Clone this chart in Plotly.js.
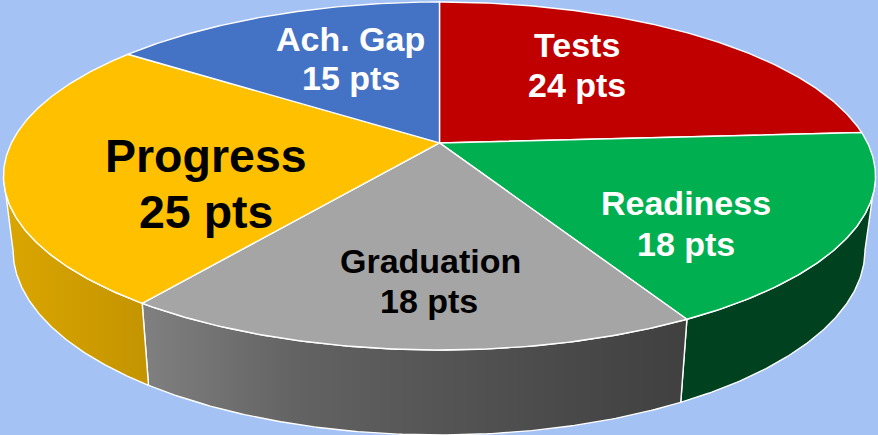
<!DOCTYPE html>
<html>
<head>
<meta charset="utf-8">
<script src="https://cdn.plot.ly/plotly-3.0.1.min.js"></script>
<style>html,body{margin:0;padding:0;background:#A4C2F4;overflow:hidden}#chart{width:878px;height:435px}</style>
</head>
<body>
<div id="chart"></div>
<script>
// Data
const categories = ["Tests", "Readiness", "Graduation", "Progress", "Ach. Gap"];
const points = [24, 18, 18, 25, 15];

// Styles
const topColors = ["#C00000", "#00B050", "#A5A5A5", "#FFC000", "#4472C4"];
const textColors = ["#FFFFFF", "#FFFFFF", "#000000", "#000000", "#FFFFFF"];
const fontSizes = [34, 34, 34, 46.5, 34];
const namePos = [[577, 45], [686, 203], [430, 261], [206, 156], [350, 39]];
const valuePos = [[577, 85], [686, 244], [429, 301], [206, 212], [351, 78]];
const wallGradients = {
  1: [[0, "#00421F"], [1, "#00421F"]],
  2: [[0, "#808080"], [0.28, "#636363"], [0.54, "#555555"], [0.83, "#474747"], [1, "#404040"]],
  3: [[0, "#DAA600"], [1, "#C49400"]]
};

// Perspective projection of a tilted disc
const tilt = -0.19;
const topDisc = {cx: 439.5, cy: 176, rx: 436, ry: 174};
const lowDisc = {cx: 439, cy: 250, rx: 426, ry: 185};
const silhouetteDeg = 259; // angle of the visible rim's extreme, from 12 o'clock
const rad = d => d * Math.PI / 180;
function project(disc, deg) {
  const u = Math.sin(rad(deg)), v = -Math.cos(rad(deg));
  const k = 1 + tilt * v;
  return [disc.cx + disc.rx * u * Math.sqrt(1 - tilt * tilt) / k,
          disc.cy + disc.ry * (v + tilt) / k];
}
function arc(disc, a, b) {
  const n = Math.max(2, Math.ceil(Math.abs(b - a) / 0.5));
  const out = [];
  for (let i = 0; i <= n; i++) out.push(project(disc, a + (b - a) * i / n));
  return out;
}

const total = points.reduce((s, v) => s + v, 0);
let run = 0;
const spans = points.map(v => {
  const a = run / total * 360;
  run += v;
  return [a, run / total * 360];
});

const apex = [topDisc.cx, topDisc.cy + topDisc.ry * tilt];
const traces = [];
const edge = {color: "#FFFFFF", width: 1.4};

// Rim walls (front-facing slices only)
Object.keys(wallGradients).forEach(key => {
  const i = +key;
  const a = Math.max(spans[i][0], 360 - silhouetteDeg);
  const b = Math.min(spans[i][1], silhouetteDeg);
  const pts = arc(topDisc, a, b).concat(arc(lowDisc, b, a));
  pts.push(pts[0]);
  traces.push({
    type: "scatter", mode: "lines", name: categories[i] + " rim",
    x: pts.map(p => p[0]), y: pts.map(p => p[1]),
    fill: "toself",
    fillgradient: {type: "horizontal", colorscale: wallGradients[key]},
    line: edge, hoverinfo: "skip", showlegend: false
  });
});

// Top faces
categories.forEach((name, i) => {
  const pts = [apex].concat(arc(topDisc, spans[i][0], spans[i][1]));
  pts.push(apex);
  traces.push({
    type: "scatter", mode: "lines", name: name,
    x: pts.map(p => p[0]), y: pts.map(p => p[1]),
    fill: "toself", fillcolor: topColors[i],
    line: edge, hoverinfo: "skip", showlegend: false
  });
});

// Labels
const annotations = [];
categories.forEach((name, i) => {
  [[name, namePos[i]], [points[i] + " pts", valuePos[i]]].forEach(([text, pos]) => {
    annotations.push({
      x: pos[0], y: pos[1], xref: "x", yref: "y", text: text,
      showarrow: false, xanchor: "center", yanchor: "middle",
      font: {family: "Liberation Sans, Arial, sans-serif", size: fontSizes[i], color: textColors[i], weight: 700}
    });
  });
});

Plotly.newPlot("chart", traces, {
  width: 878, height: 435,
  margin: {l: 0, r: 0, t: 0, b: 0},
  paper_bgcolor: "#A4C2F4", plot_bgcolor: "#A4C2F4",
  showlegend: false,
  xaxis: {range: [0, 878], visible: false, fixedrange: true},
  yaxis: {range: [435, 0], visible: false, fixedrange: true},
  annotations: annotations
}, {displayModeBar: false, staticPlot: true});
</script>
</body>
</html>
